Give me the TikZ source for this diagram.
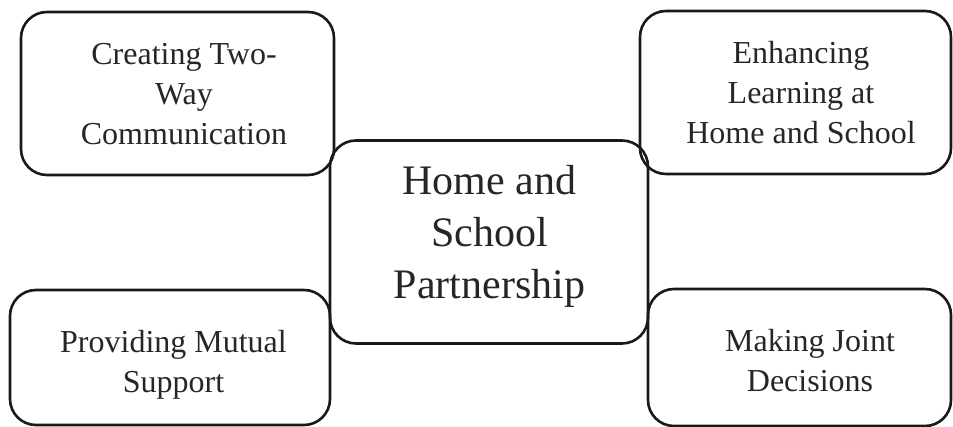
\documentclass[tikz,border=0pt]{standalone}
\usepackage{fontspec}
\setmainfont{Liberation Serif}
\begin{document}
\begin{tikzpicture}[x=1pt,y=-1pt,
  box/.style={draw=black!90, line width=2.6pt, rounded corners=26pt, inner sep=0pt, outer sep=0pt},
  small/.style={align=center, font=\fontsize{32}{40}\selectfont, inner sep=0pt, text=black!85},
  big/.style={align=center, font=\fontsize{42}{52}\selectfont, inner sep=0pt, text=black!85}]
\useasboundingbox (0,0) rectangle (953,427);
% boxes
\node[box, minimum width=313pt, minimum height=163pt] (tl) at (177.5,93.5) {};
\node[box, minimum width=311pt, minimum height=163pt] (tr) at (795.5,92.5) {};
\node[box, minimum width=318pt, minimum height=203pt] (c) at (489,242) {};
\node[box, minimum width=320pt, minimum height=135pt] (bl) at (170,357.5) {};
\node[box, minimum width=303pt, minimum height=137pt] (br) at (799.5,357.5) {};
% texts
\node[small] (tlt) at (184,94) {Creating Two-\\Way\\Communication};
\node[small] (trt) at (801,93) {Enhancing\\Learning at\\Home and School};
\node[big] (ct) at (489.5,236) {Home and\\School\\Partnership};
\node[small] (blt) at (173.5,364.5) {Providing Mutual\\Support};
\node[small] (brt) at (810,361) {Making Joint\\Decisions};
\end{tikzpicture}
\end{document}
